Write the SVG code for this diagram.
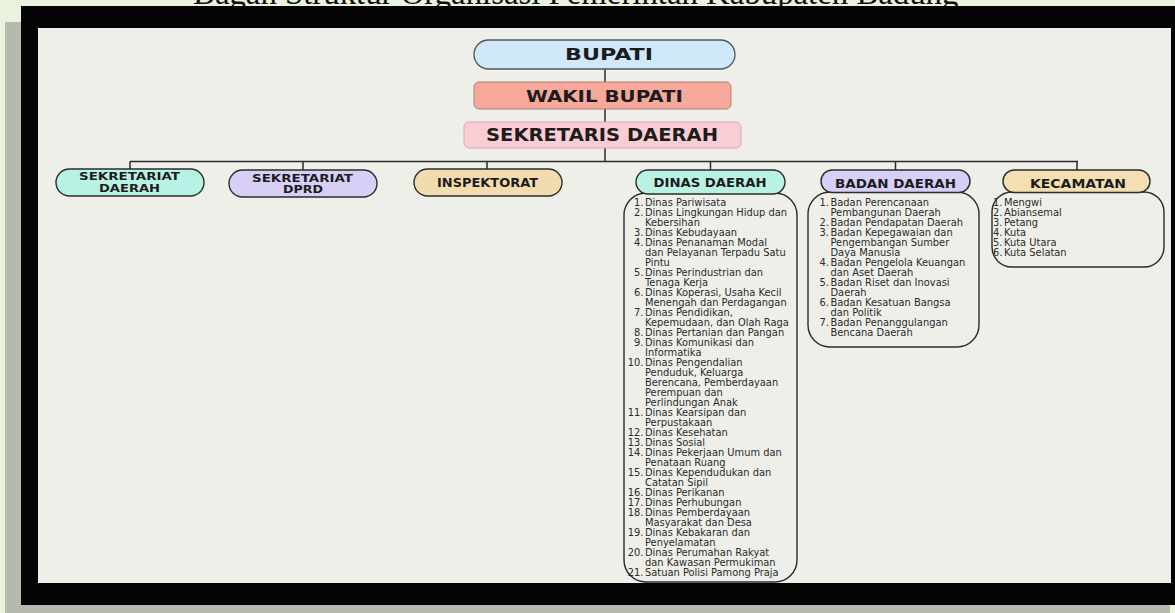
<svg xmlns="http://www.w3.org/2000/svg" width="1175" height="613" viewBox="0 0 1175 613">
<style>
.hd{font-family:"DejaVu Sans","Liberation Sans",sans-serif;font-weight:bold;fill:#1c1c1c;text-anchor:middle}
.pill{stroke:#2b2b2b;stroke-width:1.4}
.lst{fill:none;stroke:#2b2b2b;stroke-width:1.4}
.li{font-family:"DejaVu Sans","Liberation Sans",sans-serif;font-size:9.9px;fill:#2a2a2a}
.num{font-family:"DejaVu Sans","Liberation Sans",sans-serif;font-size:9.9px;fill:#2a2a2a;text-anchor:end}
.conn{stroke:#2b2b2b;stroke-width:1.5;fill:none}
</style>
<rect x="0" y="0" width="1175" height="613" fill="#e9f2dd"/>
<text x="193" y="4" font-family="Liberation Serif,serif" font-size="32.8" fill="#111">Bagan Struktur Organisasi Pemerintah Kabupaten Badung</text>
<rect x="5" y="22" width="16" height="591" fill="#b6b9ae"/>
<rect x="5" y="605" width="1165" height="8" fill="#b6b9ae"/>
<rect x="21" y="6" width="1154" height="599" fill="#050505"/>
<rect x="38" y="28" width="1133" height="555" fill="#eeefe9"/>

<g id="connectors">
<path class="conn" d="M605 69V82M605 109V122M605 148V161.5M130 161.5H1078M130 161.5V169M303 161.5V170M487 161.5V169M710.5 161.5V170M895.5 161.5V170M1077 161.5V170"/>
</g>

<g id="bupati">
<rect x="474" y="40" width="261" height="29" rx="14.5" fill="#cfe8fa" stroke="#555" stroke-width="1.3"/>
<text class="hd" x="609" y="59.5" font-size="16" textLength="88" lengthAdjust="spacingAndGlyphs">BUPATI</text>
</g>
<g id="wakil-bupati">
<rect x="474" y="82" width="257" height="27" rx="5" fill="#f6a99b" stroke="#b07c74" stroke-width="1"/>
<text class="hd" x="604.5" y="101.5" font-size="16" textLength="157" lengthAdjust="spacingAndGlyphs">WAKIL BUPATI</text>
</g>
<g id="sekretaris-daerah">
<rect x="464" y="122" width="277" height="26" rx="5" fill="#f9cdd3" stroke="#d6a9af" stroke-width="1"/>
<text class="hd" x="602" y="140.5" font-size="17" textLength="232" lengthAdjust="spacingAndGlyphs">SEKRETARIS DAERAH</text>
</g>

<g id="sekretariat-daerah">
<rect class="pill" x="56" y="169" width="148" height="27" rx="13.5" fill="#b8f2e4"/>
<text class="hd" x="129.5" y="180" font-size="9.8" textLength="101" lengthAdjust="spacingAndGlyphs">SEKRETARIAT</text>
<text class="hd" x="129.5" y="191.5" font-size="9.8" textLength="61" lengthAdjust="spacingAndGlyphs">DAERAH</text>
</g>
<g id="sekretariat-dprd">
<rect class="pill" x="229" y="170" width="148" height="27" rx="13.5" fill="#d7cff6"/>
<text class="hd" x="302.5" y="181.5" font-size="9.8" textLength="101" lengthAdjust="spacingAndGlyphs">SEKRETARIAT</text>
<text class="hd" x="303" y="193" font-size="9.8" textLength="40" lengthAdjust="spacingAndGlyphs">DPRD</text>
</g>
<g id="inspektorat">
<rect class="pill" x="414" y="169" width="148" height="27" rx="13.5" fill="#f2dcad"/>
<text class="hd" x="487.5" y="187" font-size="13" textLength="101" lengthAdjust="spacingAndGlyphs">INSPEKTORAT</text>
</g>

<g id="dinas-daerah">
<rect class="lst" x="624" y="193" width="173" height="389" rx="22"/>
<rect class="pill" x="636" y="170" width="149" height="24" rx="12" fill="#b9f1e2"/>
<text class="hd" x="710" y="187" font-size="13" textLength="113" lengthAdjust="spacingAndGlyphs">DINAS DAERAH</text>
<text class="num" x="643.5" y="206">1.</text><text class="li" x="645" y="206">Dinas Pariwisata</text>
<text class="num" x="643.5" y="216">2.</text><text class="li" x="645" y="216">Dinas Lingkungan Hidup dan</text>
<text class="li" x="645" y="226">Kebersihan</text>
<text class="num" x="643.5" y="236">3.</text><text class="li" x="645" y="236">Dinas Kebudayaan</text>
<text class="num" x="643.5" y="246">4.</text><text class="li" x="645" y="246">Dinas Penanaman Modal</text>
<text class="li" x="645" y="256">dan Pelayanan Terpadu Satu</text>
<text class="li" x="645" y="266">Pintu</text>
<text class="num" x="643.5" y="276">5.</text><text class="li" x="645" y="276">Dinas Perindustrian dan</text>
<text class="li" x="645" y="286">Tenaga Kerja</text>
<text class="num" x="643.5" y="296">6.</text><text class="li" x="645" y="296">Dinas Koperasi, Usaha Kecil</text>
<text class="li" x="645" y="306">Menengah dan Perdagangan</text>
<text class="num" x="643.5" y="316">7.</text><text class="li" x="645" y="316">Dinas Pendidikan,</text>
<text class="li" x="645" y="326">Kepemudaan, dan Olah Raga</text>
<text class="num" x="643.5" y="336">8.</text><text class="li" x="645" y="336">Dinas Pertanian dan Pangan</text>
<text class="num" x="643.5" y="346">9.</text><text class="li" x="645" y="346">Dinas Komunikasi dan</text>
<text class="li" x="645" y="356">Informatika</text>
<text class="num" x="643.5" y="366">10.</text><text class="li" x="645" y="366">Dinas Pengendalian</text>
<text class="li" x="645" y="376">Penduduk, Keluarga</text>
<text class="li" x="645" y="386">Berencana, Pemberdayaan</text>
<text class="li" x="645" y="396">Perempuan dan</text>
<text class="li" x="645" y="406">Perlindungan Anak</text>
<text class="num" x="643.5" y="416">11.</text><text class="li" x="645" y="416">Dinas Kearsipan dan</text>
<text class="li" x="645" y="426">Perpustakaan</text>
<text class="num" x="643.5" y="436">12.</text><text class="li" x="645" y="436">Dinas Kesehatan</text>
<text class="num" x="643.5" y="446">13.</text><text class="li" x="645" y="446">Dinas Sosial</text>
<text class="num" x="643.5" y="456">14.</text><text class="li" x="645" y="456">Dinas Pekerjaan Umum dan</text>
<text class="li" x="645" y="466">Penataan Ruang</text>
<text class="num" x="643.5" y="476">15.</text><text class="li" x="645" y="476">Dinas Kependudukan dan</text>
<text class="li" x="645" y="486">Catatan Sipil</text>
<text class="num" x="643.5" y="496">16.</text><text class="li" x="645" y="496">Dinas Perikanan</text>
<text class="num" x="643.5" y="506">17.</text><text class="li" x="645" y="506">Dinas Perhubungan</text>
<text class="num" x="643.5" y="516">18.</text><text class="li" x="645" y="516">Dinas Pemberdayaan</text>
<text class="li" x="645" y="526">Masyarakat dan Desa</text>
<text class="num" x="643.5" y="536">19.</text><text class="li" x="645" y="536">Dinas Kebakaran dan</text>
<text class="li" x="645" y="546">Penyelamatan</text>
<text class="num" x="643.5" y="556">20.</text><text class="li" x="645" y="556">Dinas Perumahan Rakyat</text>
<text class="li" x="645" y="566">dan Kawasan Permukiman</text>
<text class="num" x="643.5" y="576">21.</text><text class="li" x="645" y="576">Satuan Polisi Pamong Praja</text>
</g>

<g id="badan-daerah">
<rect class="lst" x="808" y="192" width="171" height="155" rx="22"/>
<rect class="pill" x="821" y="170" width="149" height="22.5" rx="11.25" fill="#d6cff7"/>
<text class="hd" x="895.5" y="188" font-size="13" textLength="121" lengthAdjust="spacingAndGlyphs">BADAN DAERAH</text>
<text class="num" x="829" y="206">1.</text><text class="li" x="830.5" y="206" font-size="10.5">Badan Perencanaan</text>
<text class="li" x="830.5" y="216" font-size="10.5">Pembangunan Daerah</text>
<text class="num" x="829" y="226">2.</text><text class="li" x="830.5" y="226" font-size="10.5">Badan Pendapatan Daerah</text>
<text class="num" x="829" y="236">3.</text><text class="li" x="830.5" y="236" font-size="10.5">Badan Kepegawaian dan</text>
<text class="li" x="830.5" y="246" font-size="10.5">Pengembangan Sumber</text>
<text class="li" x="830.5" y="256" font-size="10.5">Daya Manusia</text>
<text class="num" x="829" y="266">4.</text><text class="li" x="830.5" y="266" font-size="10.5">Badan Pengelola Keuangan</text>
<text class="li" x="830.5" y="276" font-size="10.5">dan Aset Daerah</text>
<text class="num" x="829" y="286">5.</text><text class="li" x="830.5" y="286" font-size="10.5">Badan Riset dan Inovasi</text>
<text class="li" x="830.5" y="296" font-size="10.5">Daerah</text>
<text class="num" x="829" y="306">6.</text><text class="li" x="830.5" y="306" font-size="10.5">Badan Kesatuan Bangsa</text>
<text class="li" x="830.5" y="316" font-size="10.5">dan Politik</text>
<text class="num" x="829" y="326">7.</text><text class="li" x="830.5" y="326" font-size="10.5">Badan Penanggulangan</text>
<text class="li" x="830.5" y="336" font-size="10.5">Bencana Daerah</text>
</g>

<g id="kecamatan">
<rect class="lst" x="992" y="192" width="172" height="75" rx="20"/>
<rect class="pill" x="1003" y="170" width="147" height="22.5" rx="11.25" fill="#f3dfb2"/>
<text class="hd" x="1078" y="188" font-size="13" textLength="96" lengthAdjust="spacingAndGlyphs">KECAMATAN</text>
<text class="num" x="1002.5" y="206">1.</text><text class="li" x="1004" y="206" font-size="10.5">Mengwi</text>
<text class="num" x="1002.5" y="216">2.</text><text class="li" x="1004" y="216" font-size="10.5">Abiansemal</text>
<text class="num" x="1002.5" y="226">3.</text><text class="li" x="1004" y="226" font-size="10.5">Petang</text>
<text class="num" x="1002.5" y="236">4.</text><text class="li" x="1004" y="236" font-size="10.5">Kuta</text>
<text class="num" x="1002.5" y="246">5.</text><text class="li" x="1004" y="246" font-size="10.5">Kuta Utara</text>
<text class="num" x="1002.5" y="256">6.</text><text class="li" x="1004" y="256" font-size="10.5">Kuta Selatan</text>
</g>
</svg>
